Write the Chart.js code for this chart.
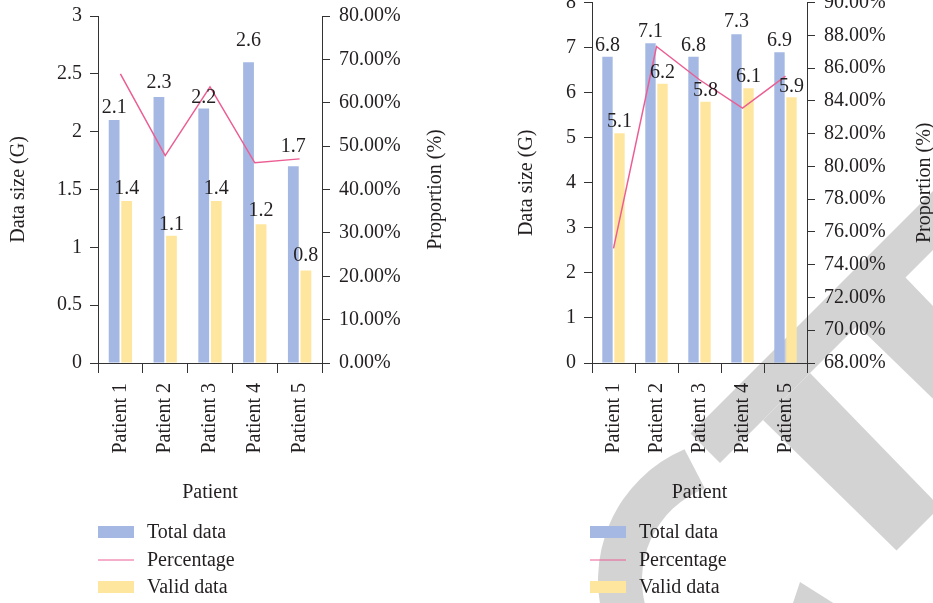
<!DOCTYPE html>
<html>
<head>
<meta charset="utf-8">
<script src="https://cdn.jsdelivr.net/npm/chart.js@4.4.1/dist/chart.umd.min.js"></script>
<style>
    html, body { margin: 0; padding: 0; background: #fff; }
    #page { position: relative; width: 933px; height: 603px; overflow: hidden; }
    #stamp { position: absolute; left: 0; top: 0; }
    .panel { position: absolute; top: 0; height: 603px; }
</style>
</head>
<body>
<div id="page">
    <!-- grey stamp behind both charts -->
    <svg id="stamp" width="933" height="603">
        <g fill="#d3d3d3">
            <polygon points="690.5,433.5 1000,124 1059,124 720,463"/>
            <polygon points="763,420 810,373 940,507 896.5,550.5"/>
            <polygon points="857,325 905,277 1000,375 1000,464"/>
            <path d="M 684.5 449.3 A 142 142 0 0 0 606.6 628.6 L 647.9 613.5 A 98 98 0 0 1 704.9 488.5 Z"/>
            <polygon points="800,582 838,606 792,606"/>
        </g>
    </svg>
    <div class="panel" style="left:0;width:466px"><canvas id="chartA" width="466" height="603"></canvas></div>
    <div class="panel" style="left:466px;width:467px"><canvas id="chartB" width="467" height="603"></canvas></div>
</div>

<script>
// categories
const patients = ['Patient 1', 'Patient 2', 'Patient 3', 'Patient 4', 'Patient 5'];

// left panel
const totalA = [2.1, 2.3, 2.2, 2.6, 1.7];
const validA = [1.4, 1.1, 1.4, 1.2, 0.8];
const pctA = [66.67, 47.83, 63.64, 46.15, 47.06];
const sizeTicksA = [0, 0.5, 1, 1.5, 2, 2.5, 3];
const pctTicksA = [0, 10, 20, 30, 40, 50, 60, 70, 80];

// right panel
const totalB = [6.8, 7.1, 6.8, 7.3, 6.9];
const validB = [5.1, 6.2, 5.8, 6.1, 5.9];
const pctB = [75.00, 87.32, 85.29, 83.56, 85.51];
const sizeTicksB = [0, 1, 2, 3, 4, 5, 6, 7, 8];
const pctTicksB = [68, 70, 72, 74, 76, 78, 80, 82, 84, 86, 88, 90];

const ink = '#231f20';
const axisInk = '#333333';
const serif = { family: "'Liberation Serif', 'Times New Roman', serif", size: 20 };

//..value labels over the bars
const barLabels = {
    id: 'barLabels',
    afterDatasetsDraw(chart, args, opts) {
        const ctx = chart.ctx;
        ctx.save();
        ctx.font = `${serif.size}px ${serif.family}`;
        ctx.fillStyle = ink;
        ctx.textAlign = 'center';
        ctx.textBaseline = 'alphabetic';
        chart.data.datasets.forEach((ds, i) => {
            if (ds.type === 'line') return;
            const lift = (opts.lift && opts.lift[i]) || [];
            chart.getDatasetMeta(i).data.forEach((bar, j) => {
                ctx.fillText(ds.data[j].toFixed(1), bar.x, bar.y - opts.gap - (lift[j] || 0));
            });
        });
        ctx.restore();
    }
};

//..right axis title (reads upward) and the stacked legend
const sideBits = {
    id: 'sideBits',
    afterDraw(chart, args, opts) {
        const { ctx, chartArea } = chart;
        ctx.save();
        ctx.font = `${serif.size}px ${serif.family}`;
        ctx.fillStyle = ink;

        ctx.translate(chartArea.right + opts.titleGap, (chartArea.top + chartArea.bottom) / 2);
        ctx.rotate(-Math.PI / 2);
        ctx.textAlign = 'center';
        ctx.textBaseline = 'middle';
        ctx.fillText(opts.rightTitle, 0, 0);
        ctx.setTransform(1, 0, 0, 1, 0, 0);

        ctx.textAlign = 'left';
        ctx.textBaseline = 'middle';
        chart.data.datasets.forEach((ds, i) => {
            const y = opts.legendTop + i * opts.legendStep;
            const x = chartArea.left + opts.legendShift;
            if (ds.type === 'line') {
                ctx.strokeStyle = ds.borderColor;
                ctx.lineWidth = 1;
                ctx.beginPath();
                ctx.moveTo(x, y + 0.5);
                ctx.lineTo(x + 36, y + 0.5);
                ctx.stroke();
            } else {
                ctx.fillStyle = ds.backgroundColor;
                ctx.fillRect(x, y - 6, 36, 12);
            }
            ctx.fillStyle = ink;
            ctx.fillText(ds.label, x + 49, y + 1);
        });
        ctx.restore();
    }
};

function tickList(values) {
    return scale => { scale.ticks = values.map(v => ({ value: v })); };
}

//..build one panel; box is the plot area inside its canvas
function buildPanel(canvasId, d) {
    const W = d.width, H = 603;
    const padL = d.padLeft;
    const xBottom = 505;

    new Chart(document.getElementById(canvasId), {
        data: {
            labels: patients,
            datasets: [
                {
                    type: 'bar', label: 'Total data', data: d.total,
                    backgroundColor: '#a4b8e3', yAxisID: 'y',
                    categoryPercentage: 0.56, barPercentage: 0.86
                },
                {
                    type: 'line', label: 'Percentage', data: d.pct,
                    borderColor: '#ec5e93', borderWidth: 1.5,
                    pointRadius: 0, tension: 0, yAxisID: 'y2', order: -1
                },
                {
                    type: 'bar', label: 'Valid data', data: d.valid,
                    backgroundColor: '#ffe69e', yAxisID: 'y',
                    categoryPercentage: 0.56, barPercentage: 0.86
                }
            ]
        },
        options: {
            responsive: false,
            animation: false,
            devicePixelRatio: 1,
            layout: { padding: { left: padL, right: 0, top: d.box.top, bottom: H - xBottom } },
            plugins: {
                legend: { display: false },
                tooltip: { enabled: false },
                barLabels: { gap: 6, lift: d.lift },
                sideBits: {
                    rightTitle: 'Proportion (%)', titleGap: d.titleGap,
                    legendTop: 532, legendStep: 27.5, legendShift: d.legendShift
                }
            },
            scales: {
                x: {
                    type: 'category',
                    offset: true,
                    grid: { offset: true, drawOnChartArea: false, drawTicks: true, tickLength: 10, color: axisInk, tickColor: axisInk },
                    border: { color: axisInk, width: 1 },
                    ticks: { autoSkip: false, minRotation: 90, maxRotation: 90, padding: 10, font: serif, color: ink },
                    title: { display: true, text: 'Patient', font: serif, color: ink, padding: { top: 0, bottom: 0 } },
                    afterFit: s => { s.height = xBottom - d.box.bottom; s.paddingLeft = 0; s.paddingRight = 0; }
                },
                y: {
                    type: 'linear', position: 'left',
                    min: d.sizeTicks[0], max: d.sizeTicks[d.sizeTicks.length - 1],
                    afterBuildTicks: tickList(d.sizeTicks),
                    grid: { drawOnChartArea: false, drawTicks: true, tickLength: 8, color: axisInk, tickColor: axisInk },
                    border: { color: axisInk, width: 1 },
                    ticks: { padding: 8, font: serif, color: ink, callback: v => String(v) },
                    title: { display: true, text: 'Data size (G)', font: serif, color: ink, padding: { top: 6.5, bottom: 0 } },
                    afterFit: s => { s.width = d.box.left - padL; s.paddingTop = 0; s.paddingBottom = 0; }
                },
                y2: {
                    type: 'linear', position: 'right',
                    min: d.pctTicks[0], max: d.pctTicks[d.pctTicks.length - 1],
                    afterBuildTicks: tickList(d.pctTicks),
                    grid: { drawOnChartArea: false, drawTicks: true, tickLength: 8, color: axisInk, tickColor: axisInk },
                    border: { color: axisInk, width: 1 },
                    ticks: { padding: 9, font: serif, color: ink, callback: v => v.toFixed(2) + '%' },
                    afterFit: s => { s.width = W - d.box.right; s.paddingTop = 0; s.paddingBottom = 0; }
                }
            }
        },
        plugins: [barLabels, sideBits]
    });
}

document.addEventListener('DOMContentLoaded', function () {
    buildPanel('chartA', {
        width: 466, padLeft: 0,
        box: { left: 98, right: 322, top: 16, bottom: 363 },
        total: totalA, valid: validA, pct: pctA,
        sizeTicks: sizeTicksA, pctTicks: pctTicksA,
        lift: [[1, 3, 0, 10, 8], [], [1, 0, 1, 2, 3]],
        titleGap: 114, legendShift: 0
    });
    buildPanel('chartB', {
        width: 467, padLeft: 42.5,
        box: { left: 126, right: 341, top: 2.6, bottom: 363 },
        total: totalB, valid: validB, pct: pctB,
        sizeTicks: sizeTicksB, pctTicks: pctTicksB,
        lift: [[0, 0, 0, 1, 0], [], [0, 0, 0, 0, -1]],
        titleGap: 118, legendShift: -2
    });
});
</script>
</body>
</html>
